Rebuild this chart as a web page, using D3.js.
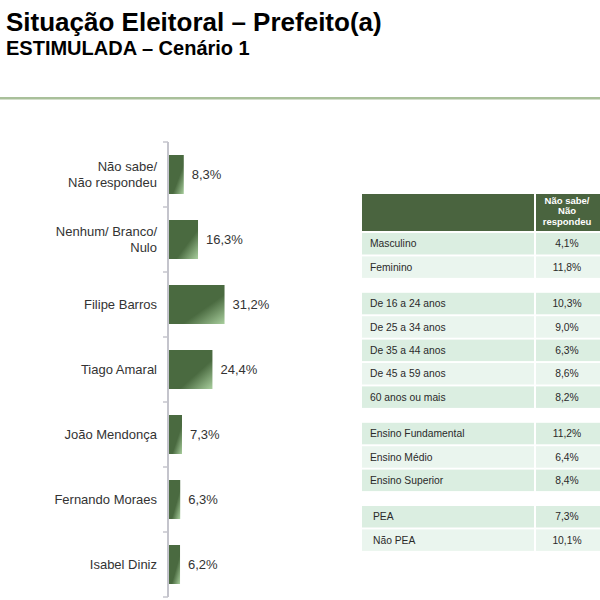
<!DOCTYPE html>
<html>
<head>
<meta charset="utf-8">
<script src="https://cdn.jsdelivr.net/npm/d3@7"></script>
<style>
  html, body { margin: 0; padding: 0; background: #fff; }
  svg { display: block; font-family: "Liberation Sans", Arial, sans-serif; }
</style>
</head>
<body>
<svg id="chart" width="600" height="600"></svg>
<script>
// ---- data ----
const categories = ["Não sabe/\nNão respondeu", "Nenhum/ Branco/\nNulo", "Filipe Barros", "Tiago Amaral", "João Mendonça", "Fernando Moraes", "Isabel Diniz"];
const values = [8.3, 16.3, 31.2, 24.4, 7.3, 6.3, 6.2];

const tableHeader = ["Não sabe/", "Não", "respondeu"];
const tableLabels = ["Masculino", "Feminino", "De 16 a 24 anos", "De 25 a 34 anos", "De 35 a 44 anos", "De 45 a 59 anos", "60 anos ou mais", "Ensino Fundamental", "Ensino Médio", "Ensino Superior", "PEA", "Não PEA"];
const tableValues = ["4,1%", "11,8%", "10,3%", "9,0%", "6,3%", "8,6%", "8,2%", "11,2%", "6,4%", "8,4%", "7,3%", "10,1%"];
const tableGroups = [0, 0, 1, 1, 1, 1, 1, 2, 2, 2, 3, 3];

const title = "Situação Eleitoral – Prefeito(a)";
const subtitle = "ESTIMULADA – Cenário 1";

// ---- drawing ----
const svg = d3.select("#chart");
const fmt = v => d3.format(".1f")(v).replace(".", ",") + "%";

svg.append("text").attr("x", 6).attr("y", 31)
  .attr("font-size", 26).attr("font-weight", "bold").attr("fill", "#000").text(title);
svg.append("text").attr("x", 6).attr("y", 55)
  .attr("font-size", 20).attr("font-weight", "bold").attr("fill", "#000").text(subtitle);
svg.append("rect").attr("x", 0).attr("y", 97).attr("width", 600).attr("height", 2.5).attr("fill", "#a9c09a");

// gradient for bars
const defs = svg.append("defs");
const grad = defs.append("linearGradient").attr("id", "barGrad")
  .attr("x1", "0%").attr("y1", "0%").attr("x2", "100%").attr("y2", "100%");
grad.append("stop").attr("offset", "0%").attr("stop-color", "#4a6a40");
grad.append("stop").attr("offset", "62%").attr("stop-color", "#4a6a40");
grad.append("stop").attr("offset", "100%").attr("stop-color", "#a9cf9e");

const x = d3.scaleLinear().domain([0, 100]).range([169, 169 + 178]);
const y = d3.scaleBand().domain(categories).range([142, 597]).paddingInner(0.4).paddingOuter(0.2);

// axis
const axisG = svg.append("g");
axisG.append("line").attr("x1", 168).attr("x2", 168).attr("y1", y.range()[0]).attr("y2", y.range()[1])
  .attr("stroke", "#c4c4cc").attr("stroke-width", 2);
const boundaries = d3.range(categories.length + 1).map(i => y.range()[0] + i * y.step());
axisG.selectAll("line.tick").data(boundaries).join("line").attr("class", "tick")
  .attr("x1", 163).attr("x2", 168).attr("y1", d => d).attr("y2", d => d)
  .attr("stroke", "#c4c4cc").attr("stroke-width", 1.5);

// bars
svg.selectAll("rect.bar").data(categories).join("rect").attr("class", "bar")
  .attr("x", x(0)).attr("y", d => y(d))
  .attr("width", (d, i) => x(values[i]) - x(0)).attr("height", y.bandwidth())
  .attr("fill", "url(#barGrad)");

// value labels
svg.selectAll("text.val").data(categories).join("text").attr("class", "val")
  .attr("x", (d, i) => x(values[i]) + 8).attr("y", d => y(d) + y.bandwidth() / 2 + 4.5)
  .attr("font-size", 13).attr("fill", "#333").text((d, i) => fmt(values[i]));

// category labels
svg.selectAll("text.cat").data(categories).join("text").attr("class", "cat")
  .attr("text-anchor", "end").attr("font-size", 13).attr("fill", "#333")
  .each(function(d) {
    const lines = d.split("\n");
    const cy = y(d) + y.bandwidth() / 2;
    const lh = 16.5;
    d3.select(this).selectAll("tspan").data(lines).join("tspan")
      .attr("x", 157)
      .attr("y", (l, j) => cy + 4.5 + (j - (lines.length - 1) / 2) * lh)
      .text(l => l);
  });

// ---- table ----
const tLeft = 362, tSep = 534, tRight = 600;
const headerTop = 194, headerBottom = 231;
const rowH = 21.5, rowStep = 23.4, groupGap = 13;
const tg = svg.append("g");
tg.append("rect").attr("x", tLeft).attr("y", headerTop).attr("width", tSep - tLeft).attr("height", headerBottom - headerTop).attr("fill", "#4a643f");
tg.append("rect").attr("x", tSep + 2).attr("y", headerTop).attr("width", tRight - tSep - 2).attr("height", headerBottom - headerTop).attr("fill", "#4a643f");
tg.selectAll("text.hdr").data(tableHeader).join("text").attr("class", "hdr")
  .attr("x", 567).attr("y", (d, i) => headerTop + 9.5 + i * 10.5)
  .attr("text-anchor", "middle").attr("font-size", 9.5).attr("font-weight", "bold").attr("fill", "#fff").text(d => d);

let yCur = headerBottom + 2;
const rowY = [];
tableLabels.forEach((l, i) => {
  if (i > 0 && tableGroups[i] !== tableGroups[i - 1]) yCur += groupGap;
  rowY.push(yCur);
  yCur += rowStep;
});
const rowFill = (i) => {
  const first = tableGroups.indexOf(tableGroups[i]);
  return (i - first) % 2 === 0 ? "#dbeee1" : "#eaf5ee";
};
const rows = tg.selectAll("g.row").data(tableLabels).join("g").attr("class", "row");
rows.append("rect").attr("x", tLeft).attr("y", (d, i) => rowY[i]).attr("width", tSep - tLeft).attr("height", rowH).attr("fill", (d, i) => rowFill(i));
rows.append("rect").attr("x", tSep + 2).attr("y", (d, i) => rowY[i]).attr("width", tRight - tSep - 2).attr("height", rowH).attr("fill", (d, i) => rowFill(i));
rows.append("text").attr("x", (d, i) => tableGroups[i] === 3 ? 373 : 370).attr("y", (d, i) => rowY[i] + rowH / 2 + 3.6)
  .attr("font-size", 10.3).attr("fill", "#2a2a2a").text(d => d);
rows.append("text").attr("x", 567).attr("y", (d, i) => rowY[i] + rowH / 2 + 3.6)
  .attr("text-anchor", "middle").attr("font-size", 10.3).attr("fill", "#2a2a2a").text((d, i) => tableValues[i]);
</script>
</body>
</html>
